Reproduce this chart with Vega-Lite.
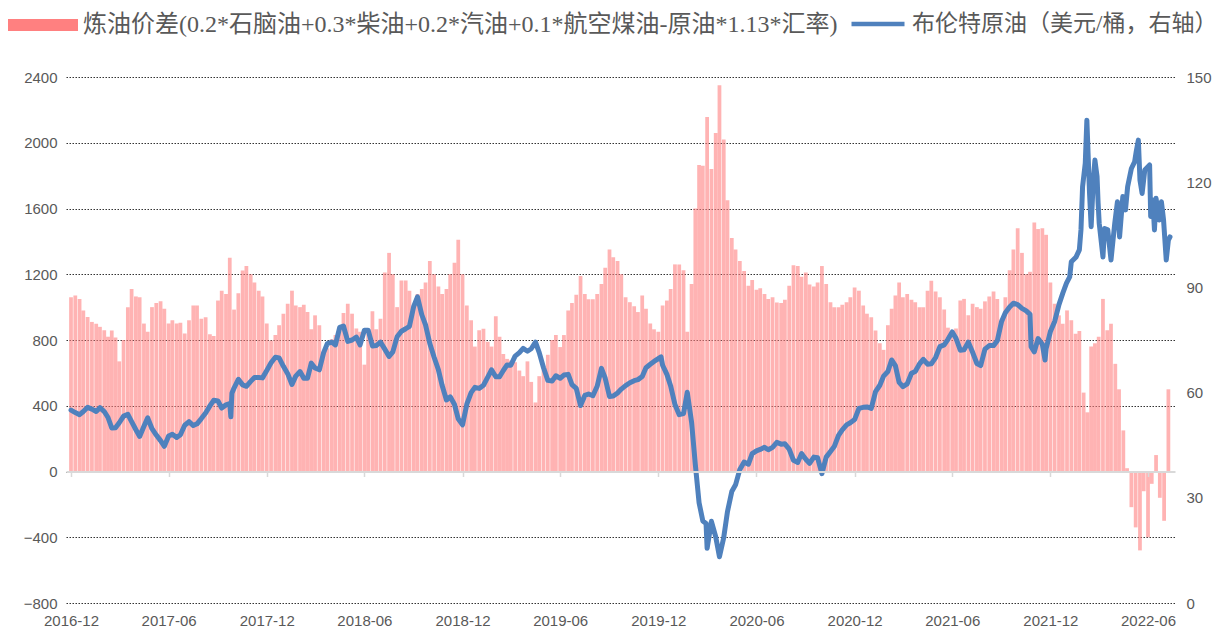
{
"$schema": "https://vega.github.io/schema/vega-lite/v6.json",
"width": 1109, "height": 526,
"autosize": {"type": "none"},
"padding": {"left": 66, "top": 77, "right": 50, "bottom": 28},
"background": "white",
"config": {"view": {"stroke": null}, "font": "Liberation Sans"},
"data": {"values": [
{"d":"2016-12-01","s":1060,"b":55.0},{"d":"2016-12-09","s":1070,"b":54.3},{"d":"2016-12-17","s":1050,"b":53.7},{"d":"2016-12-24","s":980,"b":54.6},
{"d":"2017-01-01","s":940,"b":55.8},{"d":"2017-01-09","s":910,"b":55.3},{"d":"2017-01-17","s":899,"b":54.6},{"d":"2017-01-24","s":880,"b":55.7},
{"d":"2017-02-01","s":860,"b":54.6},{"d":"2017-02-08","s":820,"b":52.9},{"d":"2017-02-15","s":858,"b":49.9},{"d":"2017-02-22","s":815,"b":50.0},
{"d":"2017-03-01","s":670,"b":51.4},{"d":"2017-03-09","s":800,"b":53.3},{"d":"2017-03-17","s":1000,"b":53.8},{"d":"2017-03-24","s":1110,"b":51.7},
{"d":"2017-04-01","s":1065,"b":49.4},{"d":"2017-04-08","s":1060,"b":47.5},{"d":"2017-04-16","s":900,"b":50.4},{"d":"2017-04-23","s":850,"b":52.8},
{"d":"2017-05-01","s":1000,"b":49.7},{"d":"2017-05-09","s":1025,"b":47.9},{"d":"2017-05-17","s":1035,"b":46.3},{"d":"2017-05-24","s":990,"b":44.7},
{"d":"2017-06-01","s":900,"b":47.6},{"d":"2017-06-08","s":920,"b":48.1},{"d":"2017-06-16","s":900,"b":47.2},{"d":"2017-06-23","s":905,"b":48.0},
{"d":"2017-07-01","s":840,"b":50.7},{"d":"2017-07-09","s":920,"b":51.7},{"d":"2017-07-17","s":1010,"b":50.6},{"d":"2017-07-24","s":1010,"b":51.1},
{"d":"2017-08-01","s":930,"b":52.6},{"d":"2017-08-09","s":939,"b":54.2},{"d":"2017-08-17","s":835,"b":56.2},{"d":"2017-08-24","s":825,"b":57.8},
{"d":"2017-09-01","s":1040,"b":57.6},{"d":"2017-09-08","s":1100,"b":55.6},{"d":"2017-09-16","s":1080,"b":56.5},{"d":"2017-09-23","s":1300,"b":56.9},{"d":"2017-09-25","b":53.1},{"d":"2017-09-27","b":59.8},
{"d":"2017-10-01","s":985,"b":61.3},{"d":"2017-10-09","s":1085,"b":63.8},{"d":"2017-10-17","s":1223,"b":62.2},{"d":"2017-10-24","s":1250,"b":61.8},
{"d":"2017-11-01","s":1200,"b":63.2},{"d":"2017-11-08","s":1150,"b":64.3},{"d":"2017-11-16","s":1100,"b":64.3},{"d":"2017-11-23","s":1065,"b":64.2},
{"d":"2017-12-01","s":900,"b":66.3},{"d":"2017-12-09","s":797,"b":68.5},{"d":"2017-12-17","s":830,"b":70.1},{"d":"2017-12-24","s":890,"b":69.9},
{"d":"2018-01-01","s":959,"b":67.5},{"d":"2018-01-09","s":1020,"b":65.4},{"d":"2018-01-17","s":1100,"b":62.3},{"d":"2018-01-24","s":1010,"b":64.7},
{"d":"2018-02-01","s":1000,"b":66.0},{"d":"2018-02-08","s":1015,"b":64.1},{"d":"2018-02-15","s":970,"b":64.1},{"d":"2018-02-22","s":865,"b":68.4},
{"d":"2018-03-01","s":950,"b":67.0},{"d":"2018-03-09","s":890,"b":66.5},{"d":"2018-03-17","s":730,"b":71.4},{"d":"2018-03-24","s":750,"b":74.0},
{"d":"2018-04-01","s":805,"b":74.4},{"d":"2018-04-08","s":830,"b":73.6},{"d":"2018-04-16","s":880,"b":78.6},{"d":"2018-04-23","s":965,"b":79.0},
{"d":"2018-05-01","s":1020,"b":74.6},{"d":"2018-05-09","s":960,"b":75.0},{"d":"2018-05-17","s":870,"b":75.8},{"d":"2018-05-24","s":850,"b":73.6},
{"d":"2018-06-01","s":650,"b":77.8},{"d":"2018-06-08","s":840,"b":77.8},{"d":"2018-06-16","s":975,"b":73.3},{"d":"2018-06-23","s":865,"b":73.4},
{"d":"2018-07-01","s":930,"b":74.4},{"d":"2018-07-09","s":1210,"b":72.4},{"d":"2018-07-17","s":1330,"b":70.3},{"d":"2018-07-24","s":1200,"b":71.6},
{"d":"2018-08-01","s":1000,"b":75.9},{"d":"2018-08-09","s":1162,"b":77.5},{"d":"2018-08-17","s":1162,"b":78.2},{"d":"2018-08-24","s":1100,"b":78.9},
{"d":"2018-09-01","s":1010,"b":84.6},{"d":"2018-09-08","s":1080,"b":87.3},{"d":"2018-09-16","s":1110,"b":82.2},{"d":"2018-09-23","s":1150,"b":79.3},
{"d":"2018-10-01","s":1280,"b":74.0},{"d":"2018-10-09","s":1200,"b":70.1},{"d":"2018-10-17","s":1125,"b":66.5},{"d":"2018-10-24","s":1080,"b":62.0},
{"d":"2018-11-01","s":1110,"b":57.9},{"d":"2018-11-08","s":1200,"b":58.8},{"d":"2018-11-16","s":1270,"b":56.6},{"d":"2018-11-23","s":1410,"b":52.5},
{"d":"2018-12-01","s":1200,"b":50.8},{"d":"2018-12-09","s":1010,"b":56.7},{"d":"2018-12-17","s":920,"b":60.0},{"d":"2018-12-24","s":760,"b":61.5},
{"d":"2019-01-01","s":860,"b":61.2},{"d":"2019-01-09","s":868,"b":62.1},{"d":"2019-01-17","s":790,"b":64.4},{"d":"2019-01-24","s":760,"b":66.5},
{"d":"2019-02-01","s":945,"b":64.5},{"d":"2019-02-08","s":820,"b":64.5},{"d":"2019-02-15","s":715,"b":66.3},{"d":"2019-02-22","s":685,"b":67.9},
{"d":"2019-03-01","s":675,"b":67.8},{"d":"2019-03-09","s":665,"b":70.4},{"d":"2019-03-17","s":614,"b":71.4},{"d":"2019-03-24","s":580,"b":72.6},
{"d":"2019-04-01","s":670,"b":71.8},{"d":"2019-04-08","s":545,"b":72.5},{"d":"2019-04-16","s":420,"b":74.4},{"d":"2019-04-23","s":580,"b":71.4},
{"d":"2019-05-01","s":620,"b":67.1},{"d":"2019-05-09","s":710,"b":63.5},{"d":"2019-05-17","s":800,"b":63.3},{"d":"2019-05-24","s":830,"b":64.8},
{"d":"2019-06-01","s":757,"b":64.1},{"d":"2019-06-08","s":830,"b":65.0},{"d":"2019-06-16","s":980,"b":65.2},{"d":"2019-06-23","s":1025,"b":62.3},
{"d":"2019-07-01","s":1075,"b":61.2},{"d":"2019-07-09","s":1190,"b":56.3},{"d":"2019-07-17","s":1080,"b":59.2},{"d":"2019-07-24","s":1048,"b":59.6},
{"d":"2019-08-01","s":1048,"b":59.1},{"d":"2019-08-09","s":1080,"b":61.8},{"d":"2019-08-17","s":1140,"b":66.9},{"d":"2019-08-24","s":1240,"b":64.1},
{"d":"2019-09-01","s":1350,"b":58.9},{"d":"2019-09-08","s":1304,"b":59.0},{"d":"2019-09-16","s":1280,"b":59.9},{"d":"2019-09-23","s":1200,"b":61.0},
{"d":"2019-10-01","s":1060,"b":62.0},{"d":"2019-10-09","s":1030,"b":62.8},{"d":"2019-10-17","s":1005,"b":63.4},{"d":"2019-10-24","s":970,"b":63.7},
{"d":"2019-11-01","s":1070,"b":64.6},{"d":"2019-11-08","s":990,"b":67.1},{"d":"2019-11-16","s":900,"b":68.1},{"d":"2019-11-23","s":865,"b":68.9},
{"d":"2019-12-01","s":850,"b":69.7},{"d":"2019-12-06","b":70.2},{"d":"2019-12-09","s":1010,"b":67.8},{"d":"2019-12-17","s":1040,"b":65.2},{"d":"2019-12-24","s":1110,"b":61.9},
{"d":"2020-01-01","s":1260,"b":56.6},{"d":"2020-01-09","s":1260,"b":53.7},{"d":"2020-01-17","s":1225,"b":54.0},{"d":"2020-01-24","s":850,"b":60.1},
{"d":"2020-02-01","s":1140,"b":51.6},{"d":"2020-02-08","s":1600,"b":39.5},{"d":"2020-02-15","s":1865,"b":28.6},{"d":"2020-02-22","s":1860,"b":23.4},{"d":"2020-02-28","b":22.7},
{"d":"2020-03-01","s":2156,"b":15.6},{"d":"2020-03-09","s":1840,"b":23.3},{"d":"2020-03-17","s":2060,"b":18.9},{"d":"2020-03-24","s":2350,"b":13.2},
{"d":"2020-04-01","s":2020,"b":18.7},{"d":"2020-04-08","s":1650,"b":26.1},{"d":"2020-04-16","s":1420,"b":31.8},{"d":"2020-04-23","s":1350,"b":33.7},
{"d":"2020-05-01","s":1280,"b":38.1},{"d":"2020-05-09","s":1220,"b":40.2},{"d":"2020-05-17","s":1130,"b":39.6},{"d":"2020-05-24","s":1165,"b":42.6},
{"d":"2020-06-01","s":1105,"b":43.4},{"d":"2020-06-08","s":1115,"b":43.8},{"d":"2020-06-16","s":1080,"b":44.4},{"d":"2020-06-23","s":1050,"b":43.7},
{"d":"2020-07-01","s":1060,"b":44.4},{"d":"2020-07-09","s":1028,"b":45.8},{"d":"2020-07-17","s":1025,"b":45.3},{"d":"2020-07-24","s":1045,"b":45.4},
{"d":"2020-08-01","s":1130,"b":43.9},{"d":"2020-08-09","s":1255,"b":40.7},{"d":"2020-08-17","s":1250,"b":40.1},{"d":"2020-08-24","s":1185,"b":42.6},
{"d":"2020-09-01","s":1210,"b":41.0},{"d":"2020-09-08","s":1138,"b":39.8},{"d":"2020-09-16","s":1125,"b":41.6},{"d":"2020-09-23","s":1150,"b":41.4},
{"d":"2020-10-01","s":1250,"b":36.9},{"d":"2020-10-09","s":1140,"b":41.6},{"d":"2020-10-17","s":1030,"b":43.2},{"d":"2020-10-24","s":1000,"b":44.6},
{"d":"2020-11-01","s":1000,"b":47.8},{"d":"2020-11-08","s":1015,"b":49.4},{"d":"2020-11-16","s":1030,"b":50.8},{"d":"2020-11-23","s":1060,"b":51.4},
{"d":"2020-12-01","s":1120,"b":52.3},{"d":"2020-12-09","s":1100,"b":55.5},{"d":"2020-12-17","s":1010,"b":55.8},{"d":"2020-12-24","s":960,"b":55.9},
{"d":"2021-01-01","s":939,"b":55.5},{"d":"2021-01-09","s":858,"b":60.3},{"d":"2021-01-17","s":780,"b":62.1},{"d":"2021-01-24","s":740,"b":64.7},
{"d":"2021-02-01","s":890,"b":66.0},{"d":"2021-02-08","s":990,"b":69.3},{"d":"2021-02-15","s":1070,"b":67.7},{"d":"2021-02-22","s":1150,"b":62.9},
{"d":"2021-03-01","s":1060,"b":61.7},{"d":"2021-03-09","s":1080,"b":62.5},{"d":"2021-03-17","s":1045,"b":65.5},{"d":"2021-03-24","s":1030,"b":66.0},
{"d":"2021-04-01","s":1000,"b":68.2},{"d":"2021-04-08","s":1000,"b":69.5},{"d":"2021-04-16","s":1100,"b":68.1},{"d":"2021-04-23","s":1160,"b":68.2},
{"d":"2021-05-01","s":1095,"b":70.0},{"d":"2021-05-09","s":1060,"b":73.1},{"d":"2021-05-17","s":985,"b":73.6},{"d":"2021-05-24","s":875,"b":75.2},
{"d":"2021-06-01","s":840,"b":77.3},{"d":"2021-06-08","s":870,"b":75.5},{"d":"2021-06-16","s":1040,"b":72.1},{"d":"2021-06-23","s":1050,"b":72.2},
{"d":"2021-07-01","s":950,"b":74.4},{"d":"2021-07-09","s":1020,"b":71.5},{"d":"2021-07-17","s":1000,"b":68.3},{"d":"2021-07-24","s":990,"b":67.7},
{"d":"2021-08-01","s":1035,"b":72.4},{"d":"2021-08-09","s":1065,"b":73.4},{"d":"2021-08-17","s":1095,"b":73.4},{"d":"2021-08-24","s":1050,"b":74.8},
{"d":"2021-09-01","s":930,"b":80.3},{"d":"2021-09-08","s":1060,"b":82.8},{"d":"2021-09-16","s":1225,"b":84.4},{"d":"2021-09-23","s":1350,"b":85.5},
{"d":"2021-10-01","s":1480,"b":85.1},{"d":"2021-10-09","s":1330,"b":84.0},{"d":"2021-10-17","s":1200,"b":83.3},{"d":"2021-10-24","s":1215,"b":82.3},{"d":"2021-10-26","b":73.1},
{"d":"2021-11-01","s":1515,"b":71.6},{"d":"2021-11-08","s":1475,"b":75.4},{"d":"2021-11-16","s":1480,"b":73.8},{"d":"2021-11-21","b":69.3},{"d":"2021-11-23","s":1440,"b":72.5},
{"d":"2021-12-01","s":1150,"b":77.4},{"d":"2021-12-09","s":1020,"b":80.3},{"d":"2021-12-17","s":950,"b":85.1},{"d":"2021-12-24","s":899,"b":88.3},{"d":"2021-12-31","b":91.2},
{"d":"2022-01-01","s":980},{"d":"2022-01-09","s":920},{"d":"2022-01-17","s":838},{"d":"2022-01-24","s":855},
{"d":"2022-02-01","s":480},{"d":"2022-02-08","s":360},{"d":"2022-02-15","s":760},{"d":"2022-02-22","s":780},
{"d":"2022-03-01","s":820},{"d":"2022-03-09","s":1050},{"d":"2022-03-17","s":860},{"d":"2022-03-24","s":899},
{"d":"2022-04-01","s":655},{"d":"2022-04-08","s":500},{"d":"2022-04-16","s":250},{"d":"2022-04-23","s":20},
{"d":"2022-05-01","s":-217},{"d":"2022-05-09","s":-340},{"d":"2022-05-17","s":-480},{"d":"2022-05-24","s":-120},
{"d":"2022-06-01","s":-400},{"d":"2022-06-08","s":-75},{"d":"2022-06-16","s":100},{"d":"2022-06-23","s":-160},
{"d":"2022-07-01","s":-300},{"d":"2022-07-09","s":500},
{"d":"2022-01-06","b":93.0},{"d":"2022-01-09","b":97.3},{"d":"2022-01-18","b":98.7},{"d":"2022-01-24","b":100.7},{"d":"2022-01-27","b":106.4},{"d":"2022-01-30","b":118.7},
{"d":"2022-02-04","b":125.4},{"d":"2022-02-07","b":137.7},{"d":"2022-02-12","b":116.8},{"d":"2022-02-15","b":107.3},{"d":"2022-02-19","b":120.6},{"d":"2022-02-22","b":126.3},{"d":"2022-02-26","b":121.6},{"d":"2022-02-28","b":114.0},
{"d":"2022-03-02","b":108.3},{"d":"2022-03-09","b":98.7},{"d":"2022-03-12","b":106.8},{"d":"2022-03-18","b":106.4},{"d":"2022-03-24","b":97.8},{"d":"2022-03-31","b":108.3},
{"d":"2022-04-05","b":114.4},{"d":"2022-04-09","b":104.4},{"d":"2022-04-15","b":115.9},{"d":"2022-04-20","b":112.1},{"d":"2022-04-24","b":118.7},
{"d":"2022-05-01","b":123.9},{"d":"2022-05-07","b":125.8},{"d":"2022-05-10","b":128.7},{"d":"2022-05-14","b":132.0},{"d":"2022-05-17","b":120.6},{"d":"2022-05-21","b":116.8},{"d":"2022-05-26","b":123.5},
{"d":"2022-06-04","b":124.9},{"d":"2022-06-06","b":110.2},{"d":"2022-06-10","b":114.9},{"d":"2022-06-13","b":106.4},{"d":"2022-06-16","b":115.4},{"d":"2022-06-22","b":109.2},{"d":"2022-06-26","b":114.4},{"d":"2022-06-30","b":109.2},
{"d":"2022-07-05","b":97.8},{"d":"2022-07-09","b":103.5},{"d":"2022-07-12","b":104.4}
]},
"layer": [
{
"transform": [{"filter": "isValid(datum.s)"}],
"mark": {"type": "bar", "size": 3.75, "opacity": 0.6},
"encoding": {
"x": {"field": "d", "type": "temporal",
"scale": {"type": "utc", "nice": false, "domain": [{"year":2016,"month":12,"date":1,"utc":true},{"year":2022,"month":7,"date":12,"utc":true}]},
"axis": {"title": null, "grid": false, "labelExpr": "utcFormat(datum.value, '%Y-%m')",
"values": [{"year":2016,"month":12,"date":1,"utc":true},{"year":2017,"month":6,"date":1,"utc":true},{"year":2017,"month":12,"date":1,"utc":true},{"year":2018,"month":6,"date":1,"utc":true},{"year":2018,"month":12,"date":1,"utc":true},{"year":2019,"month":6,"date":1,"utc":true},{"year":2019,"month":12,"date":1,"utc":true},{"year":2020,"month":6,"date":1,"utc":true},{"year":2020,"month":12,"date":1,"utc":true},{"year":2021,"month":6,"date":1,"utc":true},{"year":2021,"month":12,"date":1,"utc":true},{"year":2022,"month":6,"date":1,"utc":true}],
"offset": -131.5, "domainColor": "#D9D9D9", "domainWidth": 2, "tickColor": "#D9D9D9", "tickSize": 5, "tickWidth": 1.5,
"labelPadding": 137, "labelFontSize": 15, "labelColor": "#595959", "labelFont": "Liberation Sans", "zindex": 1, "labelOverlap": false}},
"y": {"field": "s", "type": "quantitative",
"scale": {"domain": [-800, 2400], "nice": false, "zero": false},
"axis": {"title": null, "format": "d", "values": [-800,-400,0,400,800,1200,1600,2000,2400], "domain": false, "ticks": false,
"grid": true, "gridColor": "#333333", "gridDash": [1.5, 1.5], "gridWidth": 1,
"labelPadding": 9, "labelFontSize": 15, "labelColor": "#595959", "labelFont": "Liberation Sans"}},
"color": {"datum": "炼油价差(0.2*石脑油+0.3*柴油+0.2*汽油+0.1*航空煤油-原油*1.13*汇率)",
"scale": {"range": ["#FF8080"]},
"legend": {"title": null, "orient": "none", "legendX": -58, "legendY": -87, "padding": 0,
"symbolType": "M-1,-0.17H1V0.17H-1Z", "symbolSize": 4900, "symbolOpacity": 1, "symbolStrokeWidth": 0,
"labelFontSize": 24, "labelFont": "Liberation Serif, Noto Sans CJK SC", "labelColor": "#595959", "labelLimit": 2000, "labelOffset": 5}}
}
},
{
"transform": [{"filter": "isValid(datum.b)"}],
"mark": {"type": "line", "strokeWidth": 5, "strokeJoin": "round", "strokeCap": "round"},
"encoding": {
"x": {"field": "d", "type": "temporal"},
"y": {"field": "b", "type": "quantitative",
"scale": {"domain": [0, 150], "nice": false},
"axis": {"title": null, "orient": "right", "values": [0,30,60,90,120,150], "domain": false, "ticks": false, "grid": false,
"labelPadding": 11, "labelFontSize": 15, "labelColor": "#595959", "labelFont": "Liberation Sans"}},
"color": {"datum": "布伦特原油（美元/桶，右轴）",
"scale": {"range": ["#4F81BD"]},
"legend": {"title": null, "orient": "none", "legendX": 783, "legendY": -82, "padding": 0,
"symbolType": "stroke", "symbolSize": 2809, "symbolStrokeWidth": 4.5,
"labelFontSize": 23, "labelFont": "Liberation Serif, Noto Sans CJK SC", "labelColor": "#595959", "labelLimit": 2000, "labelOffset": 5}}
}
}
],
"resolve": {"scale": {"y": "independent", "color": "independent"}}
}
